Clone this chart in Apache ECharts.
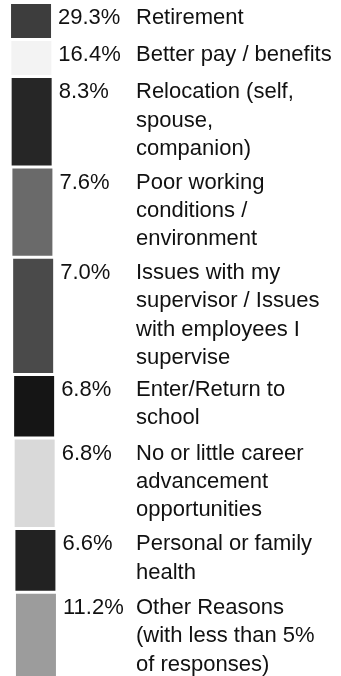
<!DOCTYPE html>
<html>
<head>
<meta charset="utf-8">
<script src="https://cdn.jsdelivr.net/npm/echarts@6/dist/echarts.min.js"></script>
<style>
  html, body { margin: 0; padding: 0; background: #fff; }
  #chart { width: 341px; height: 676px; }
</style>
</head>
<body>
<div id="chart"></div>
<script>
// Reasons for leaving, with share of responses (%)
const reasons = [
  'Retirement',
  'Better pay / benefits',
  'Relocation (self,\nspouse,\ncompanion)',
  'Poor working\nconditions /\nenvironment',
  'Issues with my\nsupervisor / Issues\nwith employees I\nsupervise',
  'Enter/Return to\nschool',
  'No or little career\nadvancement\nopportunities',
  'Personal or family\nhealth',
  'Other Reasons\n(with less than 5%\nof responses)'
];
const shares = [29.3, 16.4, 8.3, 7.6, 7.0, 6.8, 6.8, 6.6, 11.2];
const swatchColors = ['#3d3d3d', '#f3f3f3', '#262626', '#6a6a6a', '#4a4a4a',
                      '#151515', '#d9d9d9', '#222222', '#9c9c9c'];

// Key layout: each row is as tall as its wrapped label
const FONT = '22px "Liberation Sans", Arial, sans-serif';
const LINE_H = 28.3;
const ROW_LINE = 26.7;
const ROW_PAD = 10.3;
const lineCounts = reasons.map(r => r.split('\n').length);
const rowTops = [];
lineCounts.reduce((top, n) => { rowTops.push(top); return top + n * ROW_LINE + ROW_PAD; }, 4);
// the key column leans slightly to the right going down
const lean = top => top * 5 / 600;

const chart = echarts.init(document.getElementById('chart'), null, { renderer: 'canvas' });
chart.setOption({
  animation: false,
  backgroundColor: '#ffffff',
  series: [{
    type: 'custom',
    coordinateSystem: 'none',
    data: shares.map((v, i) => [i, v]),
    renderItem: function (params, api) {
      const i = api.value(0);
      const top = rowTops[i];
      const h = lineCounts[i] * ROW_LINE + ROW_PAD - 3;
      return {
        type: 'group',
        children: [
          { type: 'rect', shape: { x: 11 + lean(top), y: top, width: 40, height: h },
            style: { fill: swatchColors[i] } },
          { type: 'text', x: 58 + lean(top), y: top,
            style: { text: api.value(1).toFixed(1) + '%', font: FONT, fill: '#111',
                     verticalAlign: 'top', lineHeight: LINE_H } },
          { type: 'text', x: 136, y: top,
            style: { text: reasons[i], font: FONT, fill: '#111',
                     verticalAlign: 'top', lineHeight: LINE_H } }
        ]
      };
    }
  }]
});
</script>
</body>
</html>
